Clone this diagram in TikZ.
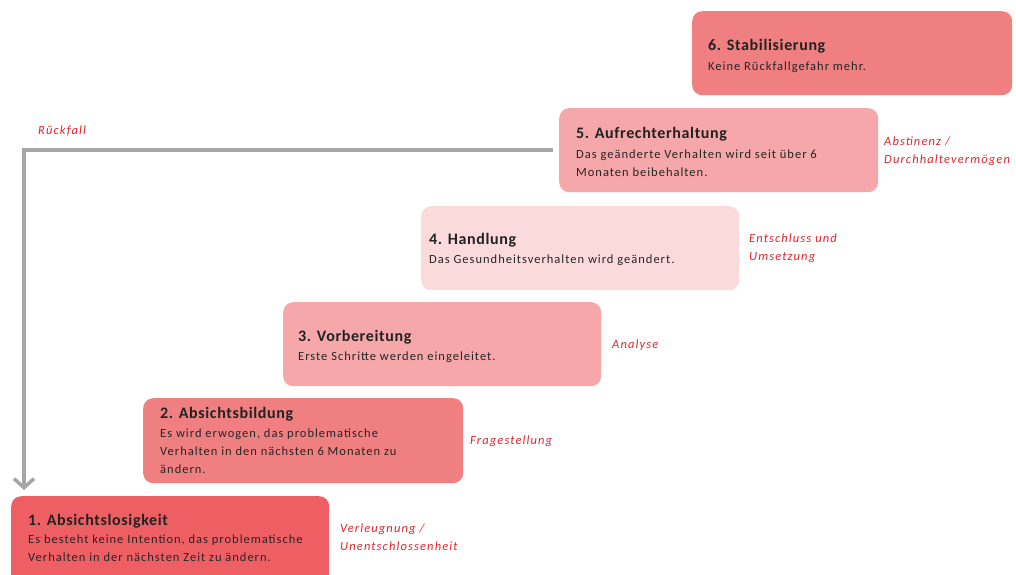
\documentclass[tikz,border=0pt]{standalone}
\usepackage{fontspec}
\setmainfont{Carlito}
\newfontfamily\bodyfont[LetterSpace=8]{Carlito}
\newfontfamily\ttlfont[LetterSpace=4]{Carlito}
\newfontfamily\lblfont[LetterSpace=9]{Carlito}
\usetikzlibrary{arrows.meta}
\definecolor{cA}{HTML}{EE5F64}
\definecolor{cB}{HTML}{F07F81}
\definecolor{cC}{HTML}{F5A7A9}
\definecolor{cD}{HTML}{FADADB}
\definecolor{lbl}{HTML}{E0262E}
\definecolor{ttl}{HTML}{222222}
\definecolor{bdy}{HTML}{262626}
\definecolor{arr}{HTML}{A6A6A6}
\tikzset{
  stagebox/.style={draw=none, rounded corners=10pt, minimum width=320pt, minimum height=84pt, anchor=north west, inner sep=0pt},
  ttlnode/.style={anchor=west, inner sep=0pt, text=ttl, font=\ttlfont\fontsize{16}{18}\selectfont\bfseries},
  bdynode/.style={anchor=north west, inner sep=0pt, align=left, text=bdy, font=\bodyfont\fontsize{12.5}{17.5}\selectfont},
  lblnode/.style={anchor=north west, inner sep=0pt, align=left, text=lbl, font=\lblfont\fontsize{12.5}{17.5}\selectfont\itshape},
}
\begin{document}
\begin{tikzpicture}[x=1pt,y=-1pt]
\useasboundingbox (0,0) rectangle (1016,574);
\clip (0,0) rectangle (1016,574);
% boxes
\node[stagebox, fill=cB] (s6) at (692,11) {};
\node[stagebox, fill=cC, minimum width=319pt] (s5) at (559,108) {};
\node[stagebox, fill=cD, minimum width=318pt] (s4) at (421,206) {};
\node[stagebox, fill=cC, minimum width=318pt] (s3) at (283,302) {};
\node[stagebox, fill=cB, minimum height=85pt] (s2) at (143,398) {};
\node[stagebox, fill=cA, minimum width=318pt, minimum height=100pt] (s1) at (11,496) {};
% titles
\node[ttlnode] (t6) at ([shift={(16,35)}]s6.north west) {6. Stabilisierung};
\node[ttlnode] (t5) at ([shift={(17,26)}]s5.north west) {5. Aufrechterhaltung};
\node[ttlnode] (t4) at ([shift={(8,34)}]s4.north west) {4. Handlung};
\node[ttlnode] (t3) at ([shift={(15,35)}]s3.north west) {3. Vorbereitung};
\node[ttlnode] (t2) at ([shift={(17,16)}]s2.north west) {2. Absichtsbildung};
\node[ttlnode] (t1) at ([shift={(17,25)}]s1.north west) {1. Absichtslosigkeit};
% bodies
\node[bdynode] (b6) at ([shift={(16,51)}]s6.north west) {Keine Rückfallgefahr mehr.};
\node[bdynode] (b5) at ([shift={(17,42)}]s5.north west) {Das geänderte Verhalten wird seit über 6\\Monaten beibehalten.};
\node[bdynode] (b4) at ([shift={(8,49)}]s4.north west) {Das Gesundheitsverhalten wird geändert.};
\node[bdynode] (b3) at ([shift={(15,50)}]s3.north west) {Erste Schritte werden eingeleitet.};
\node[bdynode, font=\bodyfont\fontsize{12.5}{18}\selectfont] (b2) at ([shift={(17,31)}]s2.north west) {Es wird erwogen, das problematische\\Verhalten in den nächsten 6 Monaten zu\\ändern.};
\node[bdynode] (b1) at ([shift={(17,39)}]s1.north west) {Es besteht keine Intention, das problematische\\Verhalten in der nächsten Zeit zu ändern.};
% side labels
\node[lblnode] (l5) at (884,137) {Abstinenz /\\Durchhaltevermögen};
\node[lblnode] (l4) at (749,234) {Entschluss und\\Umsetzung};
\node[lblnode] (l3) at (612,340) {Analyse};
\node[lblnode] (l2) at (470,436) {Fragestellung};
\node[lblnode] (l1) at (340,524) {Verleugnung /\\Unentschlossenheit};
\node[lblnode] (lr) at (38,126) {Rückfall};
% relapse arrow
\coordinate (rk) at (24,490);
\draw[arr, line width=3.5pt, shorten <=6pt, -{Straight Barb[length=9pt,width=20pt,line width=3.5pt]}] (s5.west) -| (rk);
\end{tikzpicture}
\end{document}
